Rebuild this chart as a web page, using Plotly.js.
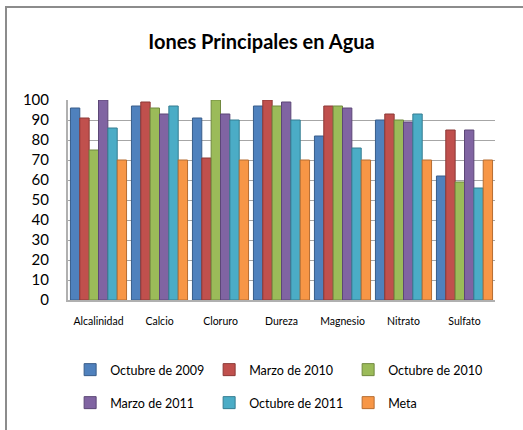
<!DOCTYPE html>
<html>
<head>
<meta charset="utf-8">
<script src="https://cdn.plot.ly/plotly-3.0.1.min.js"></script>
<style>
html,body{margin:0;padding:0;background:#fff;}
#wrap{position:relative;width:523px;height:430px;overflow:hidden;}
#chart{position:absolute;left:0;top:0;width:523px;height:430px;}
#frame{position:absolute;left:5px;top:6px;width:530px;height:440px;border-left:2px solid #8c8c8c;border-top:2px solid #8c8c8c;pointer-events:none;}
</style>
</head>
<body>
<div id="wrap"><div id="chart"></div><div id="frame"></div></div>
<script>
var categories = ["Alcalinidad", "Calcio", "Cloruro", "Dureza", "Magnesio", "Nitrato", "Sulfato"];
var seriesNames = ["Octubre de 2009", "Marzo de 2010", "Octubre de 2010", "Marzo de 2011", "Octubre de 2011", "Meta"];
var oct2009 = [96, 97, 91, 97, 82, 90, 62];
var mar2010 = [91, 99, 71, 100, 97, 93, 85];
var oct2010 = [75, 96, 100, 97, 97, 90, 59];
var mar2011 = [100, 93, 93, 99, 96, 89, 85];
var oct2011 = [86, 97, 90, 90, 76, 93, 56];
var meta = [70, 70, 70, 70, 70, 70, 70];
var yTicks = [0, 10, 20, 30, 40, 50, 60, 70, 80, 90, 100];

var colors = ["#4F81BD", "#C0504D", "#9BBB59", "#8064A2", "#4BACC6", "#F79646"];
var lines = ["#385d8a", "#8c3836", "#71893f", "#5c4776", "#357d91", "#b66d31"];
var values = [oct2009, mar2010, oct2010, mar2011, oct2011, meta];
var fam = "Lato, Open Sans, sans-serif";

var traces = values.map(function(v, i){
  return {
    type: "bar",
    name: seriesNames[i],
    x: categories,
    y: v,
    marker: {color: colors[i], line: {color: lines[i], width: 1}},
    legend: i < 3 ? "legend" : "legend2",
    hoverinfo: "x+y+name"
  };
});

var legendCommon = {
  orientation: "h",
  xanchor: "left",
  yanchor: "middle",
  entrywidth: 94,
  entrywidthmode: "pixels",
  font: {family: fam, size: 12.5, color: "#000"},
  bgcolor: "rgba(0,0,0,0)",
  itemwidth: 30
};

var layout = {
  width: 523,
  height: 430,
  margin: {l: 68, r: 28, t: 100, b: 127},
  paper_bgcolor: "#fff",
  plot_bgcolor: "#fff",
  title: {
    text: "<b>Iones Principales en Agua</b>",
    font: {family: fam, size: 20, color: "#000"},
    x: 0.5, xanchor: "center",
    y: 1 - 42/430, yanchor: "middle", yref: "container"
  },
  barmode: "group",
  bargap: 0.08,
  bargroupgap: 0,
  showlegend: true,
  legend: Object.assign({}, legendCommon, {x: 0.005, y: -0.35}),
  legend2: Object.assign({}, legendCommon, {x: 0.005, y: -0.515}),
  xaxis: {
    type: "category",
    tickfont: {family: fam, size: 10.5, color: "#000"},
    showline: true, linecolor: "#b0b0b0", linewidth: 2,
    ticks: "", ticklabelstandoff: 10,
    showgrid: false
  },
  yaxis: {
    range: [0, 100],
    tickvals: yTicks,
    ticktext: yTicks.map(String),
    tickfont: {family: fam, size: 15, color: "#000"},
    showgrid: true, gridcolor: "#a6a6a6", gridwidth: 1,
    showline: true, linecolor: "#b0b0b0", linewidth: 2,
    ticks: "", ticklabelstandoff: 14,
    zeroline: false
  }
};

Plotly.newPlot("chart", traces, layout, {displayModeBar: false, staticPlot: true});
</script>
</body>
</html>
